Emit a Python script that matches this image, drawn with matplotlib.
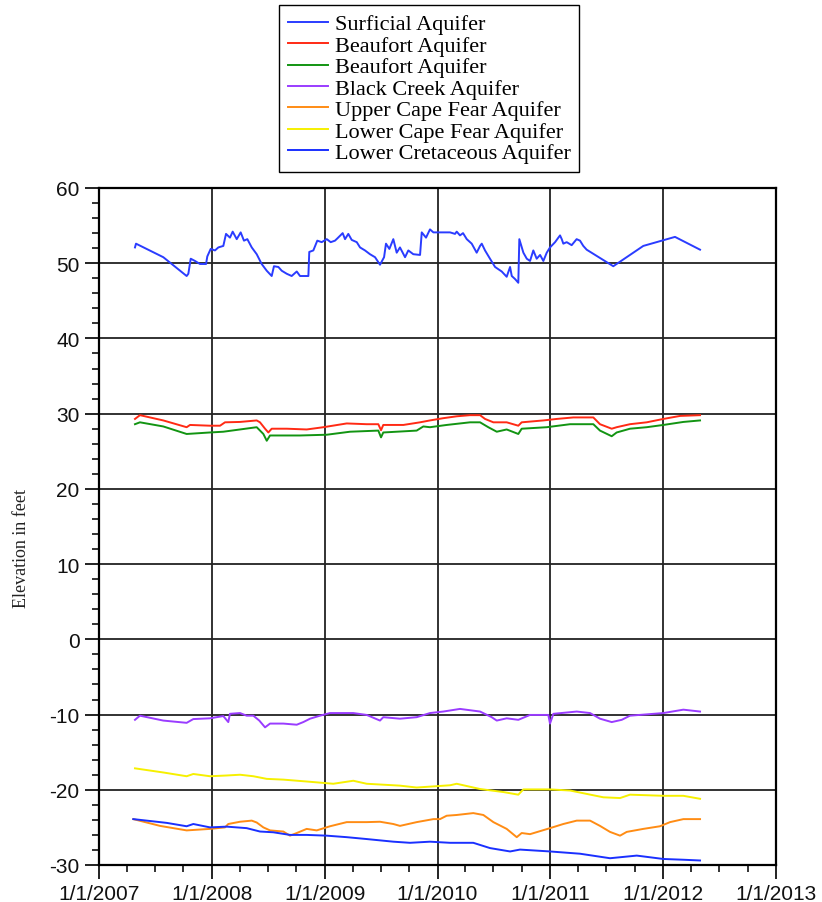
import numpy as np
import pandas as pd
import matplotlib
matplotlib.use('Agg')
import matplotlib.pyplot as plt
import matplotlib.dates as mdates
from matplotlib.ticker import FixedLocator, MultipleLocator, FuncFormatter

# ---- data (time in decimal years, elevation in feet) ----
surf_t = [2007.319, 2007.328, 2007.570, 2007.777, 2007.792, 2007.813, 2007.851, 2007.895, 2007.949, 2007.960,
          2007.990, 2008.028, 2008.058, 2008.102, 2008.126, 2008.161, 2008.185, 2008.221, 2008.256, 2008.285,
          2008.315, 2008.354, 2008.398, 2008.442, 2008.487, 2008.531, 2008.551, 2008.590, 2008.620, 2008.664,
          2008.708, 2008.753, 2008.782, 2008.856, 2008.864, 2008.900, 2008.935, 2008.974, 2009.019, 2009.054,
          2009.092, 2009.113, 2009.160, 2009.181, 2009.210, 2009.240, 2009.285, 2009.314, 2009.358, 2009.402,
          2009.447, 2009.491, 2009.527, 2009.544, 2009.574, 2009.609, 2009.639, 2009.668, 2009.713, 2009.742,
          2009.786, 2009.846, 2009.861, 2009.899, 2009.934, 2009.964, 2010.112, 2010.156, 2010.171, 2010.200,
          2010.227, 2010.260, 2010.304, 2010.348, 2010.378, 2010.393, 2010.422, 2010.466, 2010.511, 2010.570,
          2010.614, 2010.644, 2010.659, 2010.688, 2010.717, 2010.726, 2010.762, 2010.792, 2010.821, 2010.850,
          2010.880, 2010.910, 2010.939, 2010.969, 2010.998, 2011.043, 2011.072, 2011.087, 2011.102, 2011.116,
          2011.146, 2011.190, 2011.234, 2011.264, 2011.293, 2011.323, 2011.559, 2011.825, 2012.106, 2012.328]
surf_v = [52.1, 52.6, 50.8, 48.3, 48.6, 50.6, 50.3, 49.9, 49.9, 50.9,
          51.9, 51.7, 52.1, 52.3, 53.9, 53.4, 54.2, 53.2, 54.1, 53.0,
          53.2, 52.1, 51.2, 49.9, 49.0, 48.3, 49.6, 49.5, 49.0, 48.6,
          48.3, 48.9, 48.3, 48.3, 51.5, 51.7, 53.0, 52.8, 53.2, 52.8,
          53.0, 53.3, 54.0, 53.2, 53.9, 53.1, 52.8, 52.1, 51.7, 51.2,
          50.8, 49.8, 50.8, 52.6, 51.9, 53.2, 51.4, 52.1, 50.8, 51.7,
          51.2, 51.1, 54.1, 53.4, 54.5, 54.1, 54.1, 53.9, 54.2, 53.7,
          54.0, 53.2, 52.6, 51.4, 52.3, 52.6, 51.7, 50.6, 49.5, 48.9,
          48.2, 49.5, 48.3, 47.9, 47.4, 53.2, 51.4, 50.6, 50.3, 51.7,
          50.6, 51.1, 50.3, 51.4, 52.1, 52.8, 53.4, 53.7, 53.2, 52.6,
          52.8, 52.4, 53.2, 53.0, 52.3, 51.8, 49.6, 52.3, 53.5, 51.8]

beau1_t = [2007.319, 2007.363, 2007.570, 2007.777, 2007.807, 2007.984, 2008.073, 2008.117, 2008.250, 2008.398,
           2008.427, 2008.472, 2008.501, 2008.531, 2008.664, 2008.841, 2008.989, 2009.196, 2009.373, 2009.476,
           2009.500, 2009.520, 2009.698, 2009.846, 2009.934, 2010.052, 2010.171, 2010.289,
           2010.378, 2010.422, 2010.496, 2010.614, 2010.717, 2010.747, 2010.939, 2011.058, 2011.205, 2011.382,
           2011.441, 2011.545, 2011.589, 2011.707, 2011.855, 2012.003, 2012.151, 2012.328]
beau1_v = [29.3, 29.8, 29.1, 28.2, 28.5, 28.4, 28.4, 28.85, 28.9, 29.1,
           28.85, 28.0, 27.5, 28.0, 28.0, 27.9, 28.2, 28.7, 28.6, 28.6,
           27.8, 28.5, 28.5, 28.85, 29.1, 29.4, 29.65, 29.8,
           29.8, 29.3, 28.85, 28.85, 28.4, 28.85, 29.1, 29.3, 29.5, 29.5,
           28.6, 28.0, 28.2, 28.6, 28.85, 29.3, 29.7, 29.8]

beau2_t = [2007.319, 2007.363, 2007.570, 2007.777, 2007.984, 2008.102, 2008.398, 2008.457, 2008.487, 2008.516,
           2008.782, 2009.019, 2009.225, 2009.476, 2009.500, 2009.520, 2009.816, 2009.875, 2009.934,
           2010.082, 2010.289, 2010.378, 2010.451, 2010.526, 2010.614, 2010.717, 2010.747, 2010.969, 2011.176,
           2011.382, 2011.441, 2011.545, 2011.589, 2011.707, 2011.855, 2012.003, 2012.180, 2012.328]
beau2_v = [28.6, 28.85, 28.3, 27.3, 27.5, 27.6, 28.2, 27.3, 26.4, 27.1,
           27.1, 27.2, 27.6, 27.75, 26.85, 27.5, 27.75, 28.3, 28.2,
           28.5, 28.85, 28.85, 28.2, 27.6, 27.9, 27.3, 28.0, 28.2, 28.6,
           28.6, 27.75, 27.0, 27.5, 28.0, 28.2, 28.5, 28.9, 29.1]

black_t = [2007.319, 2007.363, 2007.570, 2007.777, 2007.836, 2007.984, 2008.102, 2008.146, 2008.161, 2008.250,
           2008.309, 2008.368, 2008.421, 2008.472, 2008.516, 2008.634, 2008.753, 2008.811, 2008.871, 2008.959,
           2009.048, 2009.254, 2009.373, 2009.491, 2009.520, 2009.668, 2009.816, 2009.934, 2010.052, 2010.200,
           2010.378, 2010.481, 2010.526, 2010.614, 2010.717, 2010.821, 2010.983, 2010.998, 2011.028, 2011.235,
           2011.353, 2011.441, 2011.545, 2011.634, 2011.707, 2012.003, 2012.180, 2012.328]
black_v = [-10.7, -10.15, -10.8, -11.1, -10.6, -10.5, -10.2, -11.0, -9.9, -9.8,
           -10.15, -10.15, -10.8, -11.7, -11.2, -11.2, -11.35, -11.0, -10.55, -10.15,
           -9.8, -9.8, -10.05, -10.8, -10.35, -10.55, -10.35, -9.8, -9.6, -9.25,
           -9.6, -10.35, -10.8, -10.5, -10.7, -10.05, -10.05, -11.2, -9.9, -9.6,
           -9.8, -10.55, -11.0, -10.7, -10.15, -9.8, -9.35, -9.6]

ucf_t = [2007.304, 2007.541, 2007.777, 2007.984, 2008.117, 2008.146, 2008.250, 2008.354, 2008.398, 2008.457,
         2008.516, 2008.634, 2008.693, 2008.753, 2008.841, 2008.930, 2009.048, 2009.196, 2009.373, 2009.491,
         2009.609, 2009.668, 2009.816, 2009.964, 2010.023, 2010.082, 2010.171, 2010.318, 2010.407, 2010.496,
         2010.614, 2010.703, 2010.747, 2010.821, 2010.998, 2011.116, 2011.235, 2011.353, 2011.441, 2011.530,
         2011.619, 2011.678, 2011.825, 2011.973, 2012.062, 2012.180, 2012.328]
ucf_v = [-23.9, -24.8, -25.4, -25.2, -25.0, -24.55, -24.25, -24.1, -24.35, -25.0,
         -25.4, -25.55, -26.1, -25.75, -25.2, -25.4, -24.85, -24.3, -24.3, -24.25,
         -24.55, -24.8, -24.3, -23.9, -23.9, -23.45, -23.35, -23.1, -23.35, -24.3,
         -25.2, -26.3, -25.75, -25.9, -25.1, -24.55, -24.1, -24.1, -24.8, -25.6,
         -26.1, -25.6, -25.2, -24.85, -24.3, -23.9, -23.9]

lcf_t = [2007.319, 2007.570, 2007.777, 2007.836, 2007.984, 2008.132, 2008.250, 2008.368, 2008.487, 2008.634,
         2008.841, 2009.077, 2009.254, 2009.373, 2009.668, 2009.816, 2010.112, 2010.171, 2010.378, 2010.584,
         2010.717, 2010.762, 2010.998, 2011.176, 2011.471, 2011.619, 2011.707, 2012.003, 2012.180, 2012.328]
lcf_v = [-17.15, -17.7, -18.2, -17.9, -18.2, -18.1, -18.0, -18.2, -18.55, -18.65,
         -18.9, -19.2, -18.8, -19.2, -19.45, -19.7, -19.4, -19.2, -19.9, -20.3,
         -20.65, -19.95, -19.95, -20.1, -21.0, -21.1, -20.65, -20.8, -20.8, -21.2]

lcr_t = [2007.304, 2007.600, 2007.777, 2007.836, 2007.984, 2008.132, 2008.309, 2008.427, 2008.545, 2008.693,
         2008.841, 2009.019, 2009.196, 2009.373, 2009.609, 2009.757, 2009.934, 2010.112, 2010.318, 2010.466,
         2010.644, 2010.732, 2010.998, 2011.264, 2011.530, 2011.767, 2012.003, 2012.180, 2012.328]
lcr_v = [-23.9, -24.4, -24.85, -24.55, -25.0, -24.9, -25.1, -25.55, -25.65, -26.0,
         -26.0, -26.1, -26.3, -26.55, -26.9, -27.05, -26.9, -27.05, -27.05, -27.75,
         -28.2, -27.95, -28.2, -28.5, -29.1, -28.75, -29.2, -29.3, -29.4]

series = [
    ('Surficial Aquifer', surf_t, surf_v, '#2a3cff'),
    ('Beaufort Aquifer', beau1_t, beau1_v, '#ff2a14'),
    ('Beaufort Aquifer', beau2_t, beau2_v, '#129412'),
    ('Black Creek Aquifer', black_t, black_v, '#9a3cff'),
    ('Upper Cape Fear Aquifer', ucf_t, ucf_v, '#ff8c14'),
    ('Lower Cape Fear Aquifer', lcf_t, lcf_v, '#f6f000'),
    ('Lower Cretaceous Aquifer', lcr_t, lcr_v, '#1a30ff'),
]
year_ticks = [2007, 2008, 2009, 2010, 2011, 2012, 2013]


def to_dates(years):
    years = np.asarray(years, dtype=float)
    base = pd.Timestamp('2007-01-01')
    return [base + pd.Timedelta(days=float(d)) for d in (years - 2007) * 365.25]


plt.rcParams['font.family'] = 'Liberation Sans'
plt.rcParams['axes.unicode_minus'] = False
fig = plt.figure(figsize=(8.22, 9.03), dpi=100)
ax = fig.add_axes([99 / 822, 1 - 866 / 903, (776 - 99) / 822, (866 - 189) / 903])

handles = []
for name, t, v, c in series:
    h, = ax.plot(to_dates(t), v, color=c, lw=1.4, label=name)
    handles.append(h)

ax.set_xlim(pd.Timestamp('2007-01-01'), pd.Timestamp('2013-01-01'))
ax.set_ylim(-30, 60)

major_x = [mdates.date2num(pd.Timestamp('%d-01-01' % y)) for y in year_ticks]
minor_x = [mdates.date2num(pd.Timestamp('%d-%02d-01' % (y, m)))
           for y in year_ticks[:-1] for m in (4, 7, 10)]
ax.xaxis.set_major_locator(FixedLocator(major_x))
ax.xaxis.set_minor_locator(FixedLocator(minor_x))
ax.xaxis.set_major_formatter(FuncFormatter(
    lambda x, p: '%d/%d/%d' % (mdates.num2date(x).month, mdates.num2date(x).day, mdates.num2date(x).year)))
ax.yaxis.set_major_locator(MultipleLocator(10))
ax.yaxis.set_minor_locator(MultipleLocator(2))

ax.tick_params(which='major', direction='out', length=10, width=1.3, labelsize=15,
               colors='#111111', pad=4)
ax.tick_params(which='minor', direction='out', length=5, width=1.2, colors='#111111')
ax.tick_params(top=False, right=False)

ax.grid(True, which='major', color='#222222', lw=1.3)
for s in ax.spines.values():
    s.set_color('black')
    s.set_linewidth(1.6)

fig.text(21 / 822, 1 - 548 / 903, 'Elevation in feet', rotation=90, ha='center', va='center',
         fontsize=13, family='Liberation Serif', color='#222222')

fig.legend(handles=handles, loc='upper left', bbox_to_anchor=(279 / 822, 1 - 6 / 903),
           borderaxespad=0, frameon=True, fancybox=False, edgecolor='black', framealpha=1,
           prop={'family': 'Liberation Serif', 'size': 16}, labelspacing=0.04,
           handlelength=1.8, handletextpad=0.3, borderpad=0.4)

fig.savefig('out.png', dpi=100)
